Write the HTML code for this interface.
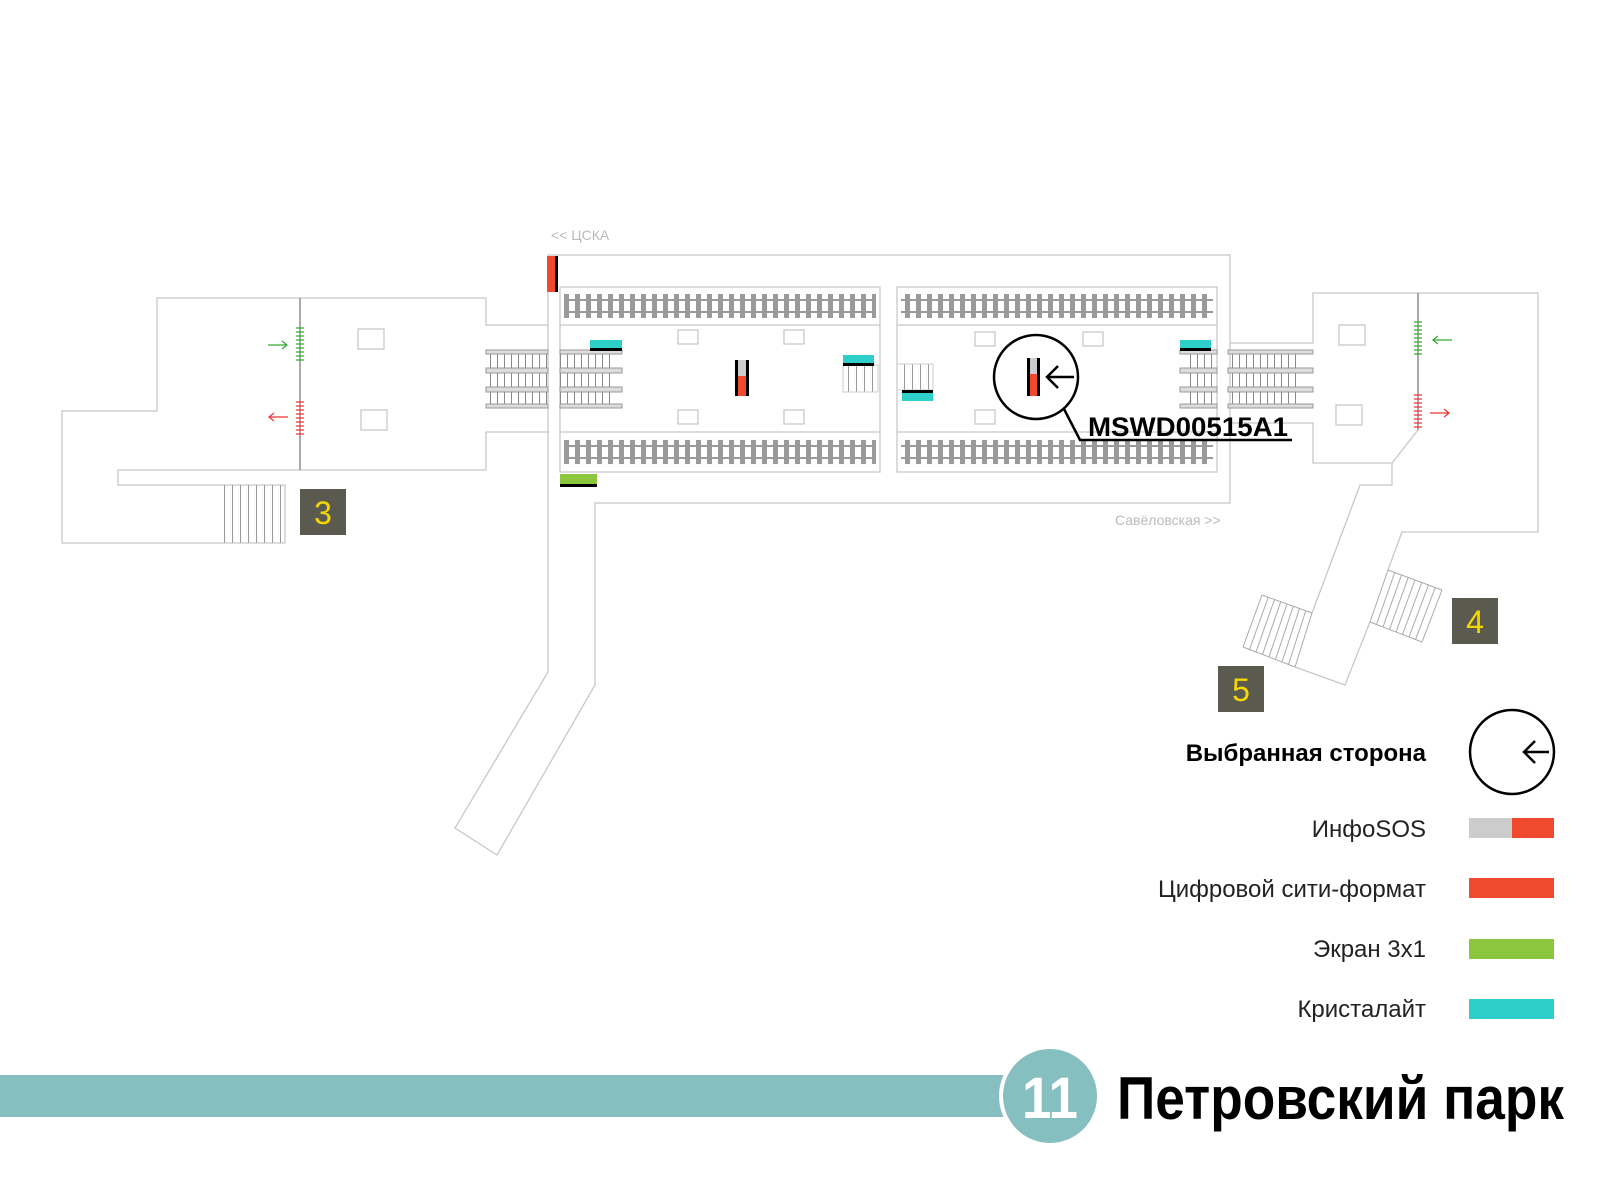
<!DOCTYPE html>
<html><head><meta charset="utf-8"><style>
html,body{margin:0;padding:0;background:#fff;}
svg{display:block}
text{font-family:"Liberation Sans","DejaVu Sans",sans-serif}
</style></head><body>
<svg width="1600" height="1200" viewBox="0 0 1600 1200" xmlns="http://www.w3.org/2000/svg">
<defs>
<pattern id="slpT" x="0" y="294" width="11" height="30" patternUnits="userSpaceOnUse">
<rect x="3" y="0" width="5" height="24" fill="#9a9a9a"/>
</pattern>
<pattern id="slpB" x="0" y="440" width="11" height="30" patternUnits="userSpaceOnUse">
<rect x="3" y="0" width="5" height="24" fill="#9a9a9a"/>
</pattern>
<pattern id="esc" x="0" y="0" width="7" height="20" patternUnits="userSpaceOnUse">
<rect x="0" y="0" width="1" height="20" fill="#888"/>
</pattern>
<pattern id="stv" x="0" y="0" width="8" height="20" patternUnits="userSpaceOnUse">
<rect x="0" y="0" width="1" height="20" fill="#999"/>
</pattern>
</defs>
<g fill="none" stroke="#c8c8c8" stroke-width="1.3">
<path d="M548 255 H1230 V503 H595 V685 L497 855 L455 828 L548 672 Z"/>
<path d="M548 325 H486 V298 H157 V411 H62 V543 H285 V485 H118 V470 H486 V432 H548"/>
<rect x="560" y="287" width="320" height="185"/>
<rect x="897" y="287" width="320" height="185"/>
<line x1="560" y1="325" x2="880" y2="325"/><line x1="560" y1="432" x2="880" y2="432"/>
<line x1="897" y1="325" x2="1217" y2="325"/><line x1="897" y1="432" x2="1217" y2="432"/>
<path d="M1230 343 H1313 V293 H1538 V532 H1402 L1388 570"/>
<path d="M1230 423 H1313 V463 H1392 V485 H1360 L1312 613"/>
<path d="M1392 463 L1418 430"/>
<path d="M1295 667 L1345 685 L1370 622"/>
<rect x="358" y="329" width="26" height="20"/><rect x="361" y="410" width="26" height="20"/>
<rect x="1339" y="325" width="26" height="20"/><rect x="1336" y="405" width="26" height="20"/>
<rect x="678" y="330" width="20" height="14"/><rect x="784" y="330" width="20" height="14"/>
<rect x="678" y="410" width="20" height="14"/><rect x="784" y="410" width="20" height="14"/>
<rect x="975" y="332" width="20" height="14"/><rect x="1083" y="332" width="20" height="14"/>
<rect x="975" y="410" width="20" height="14"/>
</g>
<!-- stairs 5 and 4 -->
<g stroke="#aaa" stroke-width="1" fill="none">
<path d="M1262 595L1312 613M1243 647L1295 667"/>
<path d="M1262 595L1243 647M1268.25 597.25L1249.5 649.5M1274.5 599.5L1256 652M1280.75 601.75L1262.5 654.5M1287 604L1269 657M1293.25 606.25L1275.5 659.5M1299.5 608.5L1282 662M1305.75 610.75L1288.5 664.5M1312 613L1295 667"/>
<path d="M1388 570L1442 590M1370 622L1422 642"/>
<path d="M1388 570L1370 622M1394.75 572.5L1376.5 624.5M1401.5 575L1383 627M1408.25 577.5L1389.5 629.5M1415 580L1396 632M1421.75 582.5L1402.5 634.5M1428.5 585L1409 637M1435.25 587.5L1415.5 639.5M1442 590L1422 642"/>
</g>
<!-- tracks -->
<g>
<rect x="564" y="294" width="312" height="24" fill="url(#slpT)"/>
<rect x="564" y="440" width="312" height="24" fill="url(#slpB)"/>
<rect x="901" y="294" width="312" height="24" fill="url(#slpT)"/>
<rect x="901" y="440" width="312" height="24" fill="url(#slpB)"/>
<g fill="#9a9a9a">
<rect x="564" y="299" width="312" height="2"/><rect x="564" y="311" width="312" height="2"/>
<rect x="564" y="445" width="312" height="2"/><rect x="564" y="457" width="312" height="2"/>
<rect x="901" y="299" width="312" height="2"/><rect x="901" y="311" width="312" height="2"/>
<rect x="901" y="445" width="312" height="2"/><rect x="901" y="457" width="312" height="2"/>
</g>
</g>
<g>
<rect x="486" y="350" width="62" height="56" fill="url(#esc)"/>
<rect x="560" y="350" width="52" height="56" fill="url(#esc)"/>
<g fill="#ddd" stroke="#999" stroke-width="1">
<rect x="486" y="350" width="62" height="4"/><rect x="486" y="368" width="62" height="5"/><rect x="486" y="387" width="62" height="5"/><rect x="486" y="404" width="62" height="4"/>
<rect x="560" y="350" width="62" height="4"/><rect x="560" y="368" width="62" height="5"/><rect x="560" y="387" width="62" height="5"/><rect x="560" y="404" width="62" height="4"/>
</g>
<rect x="1184" y="350" width="33" height="55" fill="url(#esc)"/>
<rect x="1232" y="350" width="70" height="55" fill="url(#esc)"/>
<g fill="#ddd" stroke="#999" stroke-width="1">
<rect x="1180" y="350" width="37" height="4"/><rect x="1180" y="368" width="37" height="5"/><rect x="1180" y="387" width="37" height="5"/><rect x="1180" y="404" width="37" height="4"/>
<rect x="1228" y="350" width="85" height="4"/><rect x="1228" y="368" width="85" height="5"/><rect x="1228" y="387" width="85" height="5"/><rect x="1228" y="404" width="85" height="4"/>
</g>
</g>
<rect x="222" y="485" width="63" height="58" fill="url(#stv)"/>
<rect x="843" y="365" width="35" height="27" fill="url(#stv)" stroke="#ccc"/>
<rect x="897" y="364" width="36" height="26" fill="url(#stv)" stroke="#ccc"/>
<line x1="300" y1="298" x2="300" y2="470" stroke="#555" stroke-width="1"/>
<line x1="1418" y1="293" x2="1418" y2="430" stroke="#555" stroke-width="1"/>
<g stroke-width="1.2">
<path d="M296 328h8M296 332h8M296 336h8M296 340h8M296 344h8M296 348h8M296 352h8M296 356h8M296 360h8" stroke="#3a3"/>
<path d="M296 402h8M296 406h8M296 410h8M296 414h8M296 418h8M296 422h8M296 426h8M296 430h8M296 434h8" stroke="#e33"/>
<path d="M1414 322h8M1414 326h8M1414 330h8M1414 334h8M1414 338h8M1414 342h8M1414 346h8M1414 350h8M1414 354h8" stroke="#3a3"/>
<path d="M1414 395h8M1414 399h8M1414 403h8M1414 407h8M1414 411h8M1414 415h8M1414 419h8M1414 423h8M1414 427h8" stroke="#e33"/>
<path d="M268 345h19M282 341l5 4-5 4" stroke="#3a3" fill="none"/>
<path d="M288 417h-19M274 413l-5 4 5 4" stroke="#e33" fill="none"/>
<path d="M1452 340h-19M1438 336l-5 4 5 4" stroke="#3a3" fill="none"/>
<path d="M1430 413h19M1444 409l5 4-5 4" stroke="#e33" fill="none"/>
</g>
<rect x="547" y="256" width="8" height="36" fill="#f04a2e"/><rect x="555" y="256" width="3" height="36" fill="#000"/>
<rect x="590" y="340" width="32" height="8" fill="#2ecfc9"/><rect x="590" y="348" width="32" height="3" fill="#000"/>
<rect x="843" y="355" width="31" height="8" fill="#2ecfc9"/><rect x="843" y="363" width="31" height="3" fill="#000"/>
<rect x="1180" y="340" width="31" height="8" fill="#2ecfc9"/><rect x="1180" y="348" width="31" height="3" fill="#000"/>
<rect x="902" y="393" width="31" height="8" fill="#2ecfc9"/><rect x="902" y="390" width="31" height="3" fill="#000"/>
<rect x="560" y="474" width="37" height="10" fill="#8cc63f"/><rect x="560" y="484" width="37" height="3" fill="#000"/>
<rect x="735" y="360" width="14" height="36" fill="#000"/><rect x="738" y="360" width="8" height="16" fill="#ccc"/><rect x="738" y="376" width="8" height="20" fill="#f04a2e"/>
<circle cx="1036" cy="377" r="42" fill="#fff" stroke="#000" stroke-width="2.5"/>
<rect x="1027" y="358" width="13" height="38" fill="#000"/><rect x="1030" y="358" width="7" height="16" fill="#ccc"/><rect x="1030" y="374" width="7" height="22" fill="#f04a2e"/>
<path d="M1074 377H1047M1058 366l-11 11 11 11" stroke="#000" stroke-width="2.5" fill="none"/>
<path d="M1064 409L1080 440H1292" stroke="#000" stroke-width="2.5" fill="none"/>
<text x="1088" y="436" font-size="27" font-weight="bold" fill="#000" textLength="200" lengthAdjust="spacingAndGlyphs">MSWD00515A1</text>
<text x="551" y="240" font-size="14" fill="#bbb">&lt;&lt; ЦСКА</text>
<text x="1115" y="525" font-size="14" fill="#bbb">Савёловская &gt;&gt;</text>
<rect x="300" y="489" width="46" height="46" fill="#5b5a4e"/><text x="323" y="524" font-size="32" fill="#f5d800" text-anchor="middle">3</text>
<rect x="1452" y="598" width="46" height="46" fill="#5b5a4e"/><text x="1475" y="633" font-size="32" fill="#f5d800" text-anchor="middle">4</text>
<rect x="1218" y="666" width="46" height="46" fill="#5b5a4e"/><text x="1241" y="701" font-size="32" fill="#f5d800" text-anchor="middle">5</text>
<text x="1426" y="761" font-size="24" font-weight="bold" text-anchor="end" fill="#000">Выбранная сторона</text>
<circle cx="1512" cy="752" r="42" fill="none" stroke="#000" stroke-width="2.5"/>
<path d="M1549 752H1524M1535 741l-11 11 11 11" stroke="#000" stroke-width="2.5" fill="none"/>
<g font-size="24" text-anchor="end" fill="#222">
<text x="1426" y="837">ИнфоSOS</text>
<text x="1426" y="897">Цифровой сити-формат</text>
<text x="1426" y="957">Экран 3x1</text>
<text x="1426" y="1017">Кристалайт</text>
</g>
<rect x="1469" y="818" width="43" height="20" fill="#ccc"/><rect x="1512" y="818" width="42" height="20" fill="#f04a2e"/>
<rect x="1469" y="878" width="85" height="20" fill="#f04a2e"/>
<rect x="1469" y="939" width="85" height="20" fill="#8cc63f"/>
<rect x="1469" y="999" width="85" height="20" fill="#2ecfc9"/>
<rect x="0" y="1075" width="1010" height="42" fill="#86bfbf"/>
<circle cx="1050" cy="1096" r="51" fill="#fff"/>
<circle cx="1050" cy="1096" r="47" fill="#86bfbf"/>
<text x="1050" y="1118" font-size="58" font-weight="bold" fill="#fff" text-anchor="middle" textLength="56" lengthAdjust="spacingAndGlyphs">11</text>
<text x="1117" y="1119" font-size="60" font-weight="bold" fill="#000" textLength="447" lengthAdjust="spacingAndGlyphs">Петровский парк</text>
</svg>
</body></html>
